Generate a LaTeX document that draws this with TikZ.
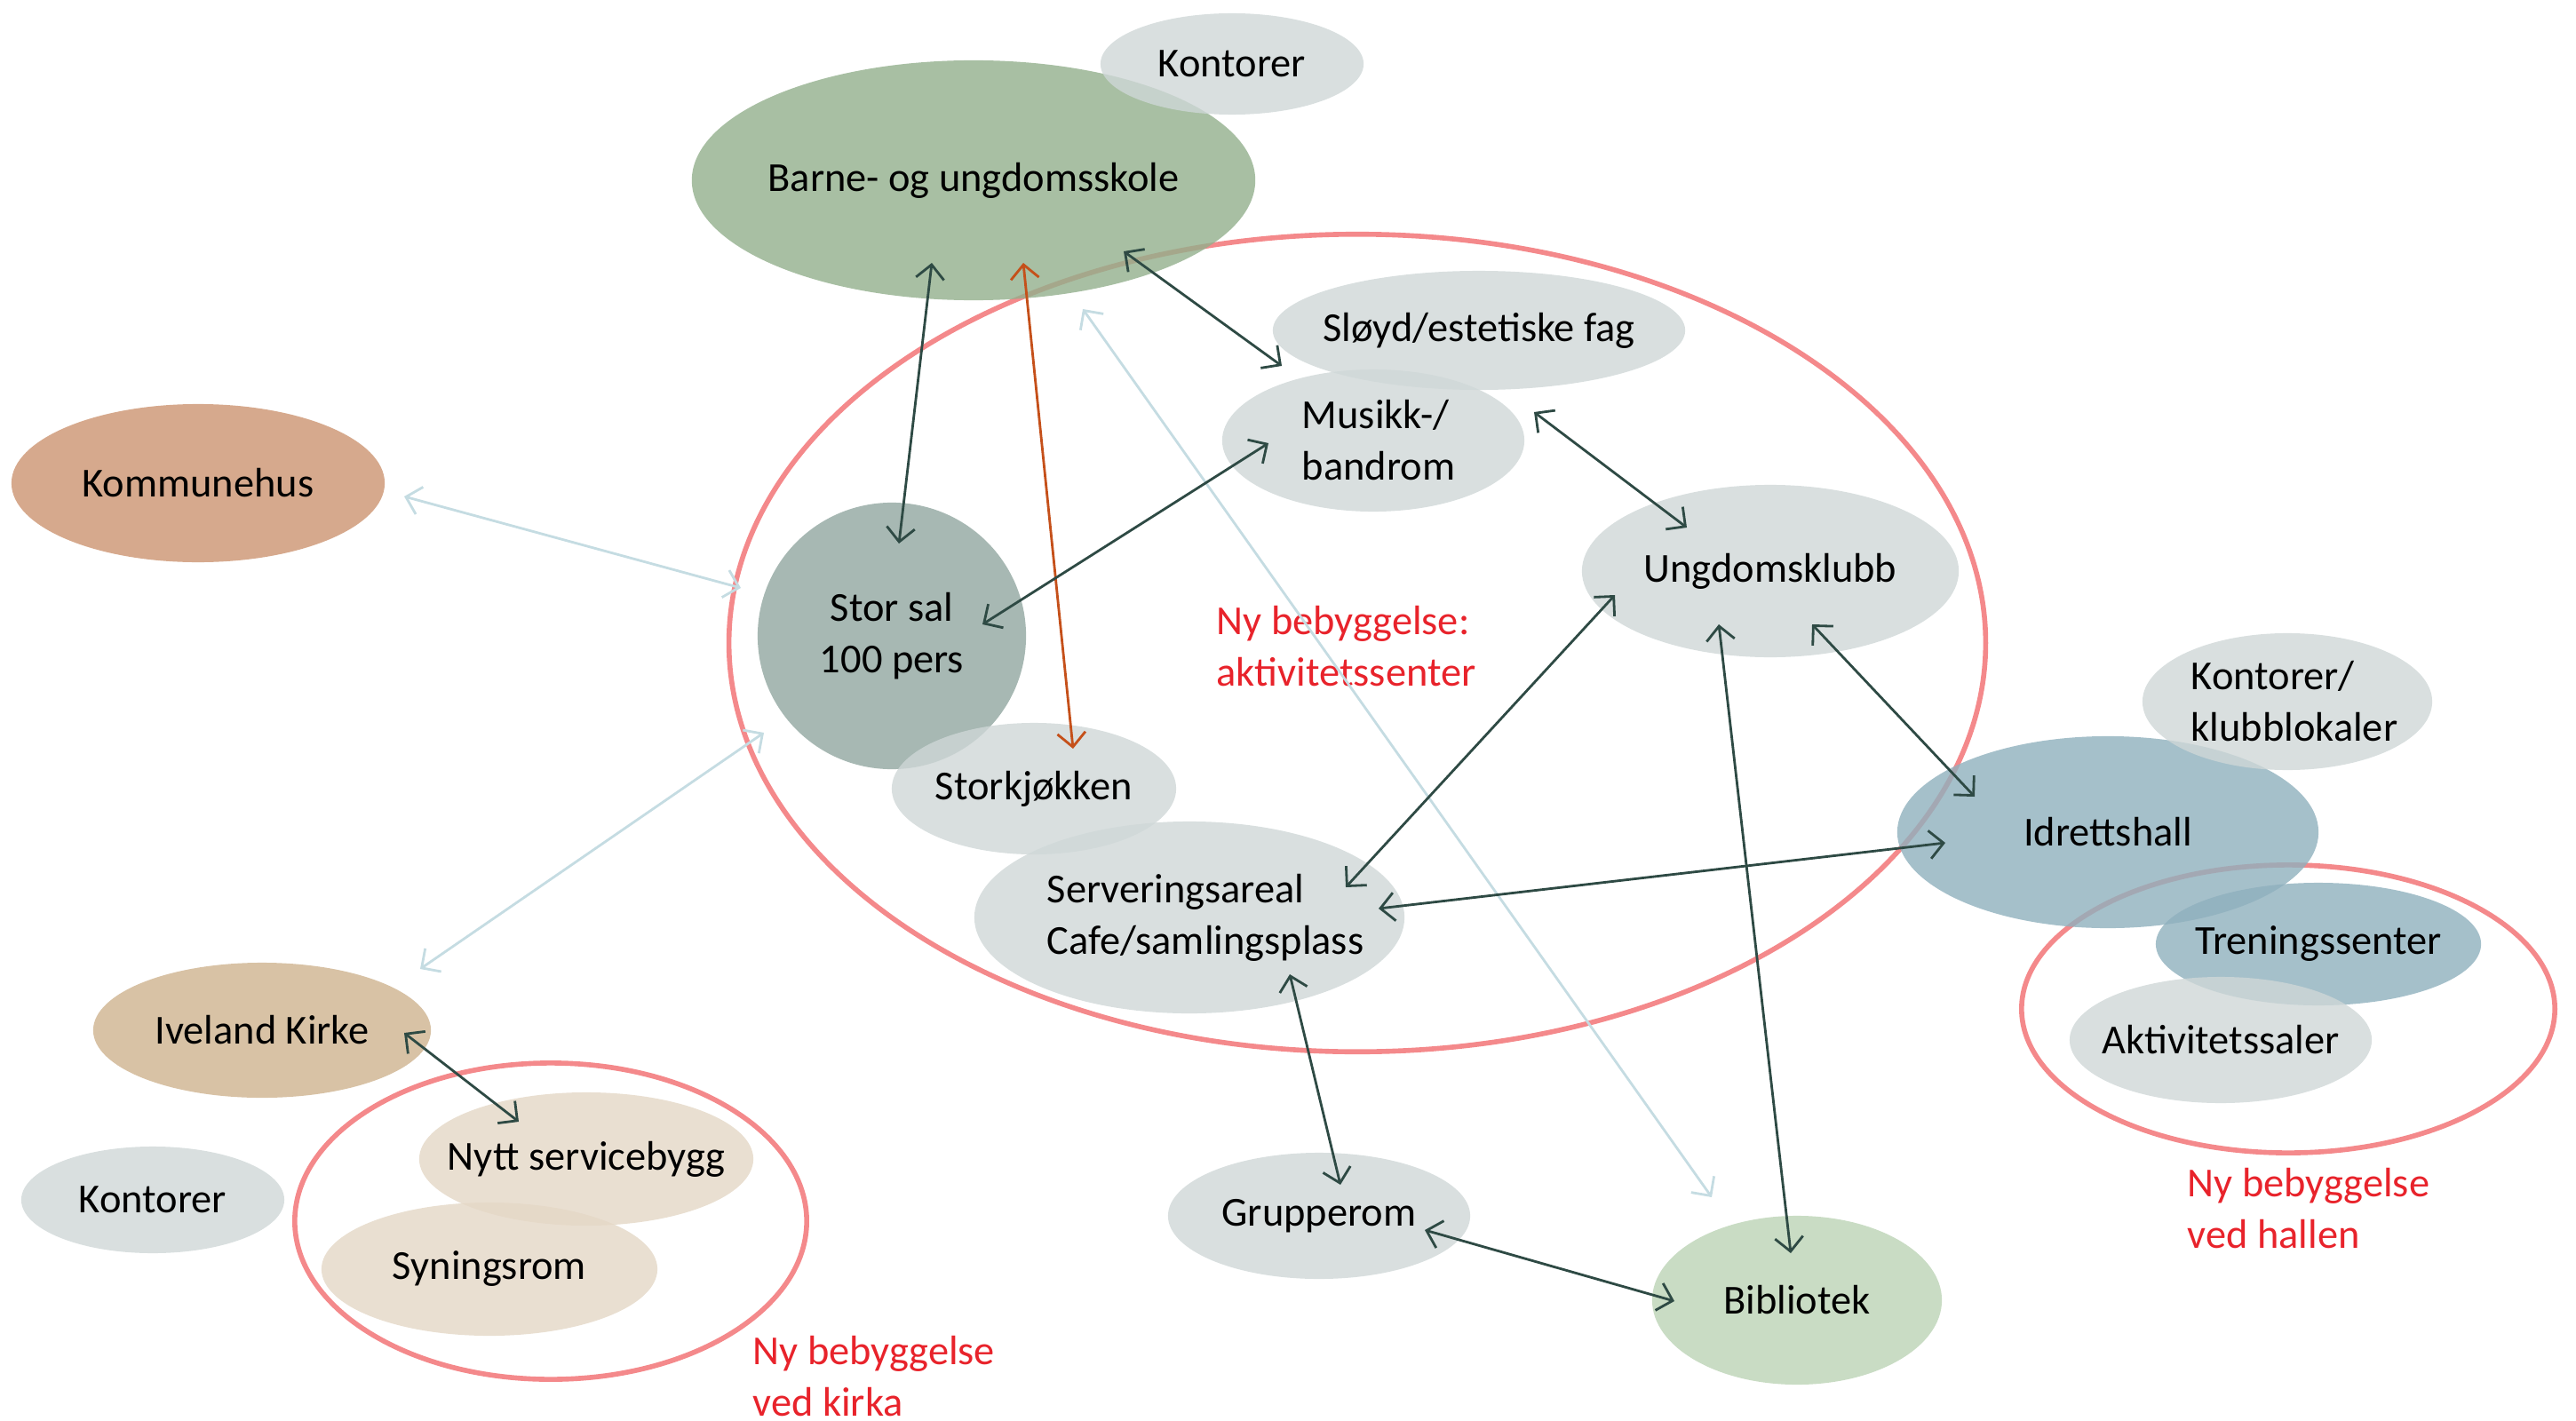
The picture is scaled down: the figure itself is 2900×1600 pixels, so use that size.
\documentclass[tikz,border=0pt]{standalone}
\usepackage{fontspec}
\setmainfont{Carlito}
\usetikzlibrary{shapes.geometric,arrows.meta}
\definecolor{roomgray}{HTML}{CFD7D7}
\definecolor{schoolgreen}{HTML}{92AF8C}
\definecolor{townbrown}{HTML}{CC9470}
\definecolor{hallgray}{HTML}{91A6A0}
\definecolor{sportblue}{HTML}{8FB0BD}
\definecolor{churchtan}{HTML}{CEB38F}
\definecolor{churchlight}{HTML}{E4D7C6}
\definecolor{librarygreen}{HTML}{BBD3B5}
\definecolor{zonered}{HTML}{F4898B}
\definecolor{notered}{HTML}{E8232B}
\definecolor{linkdark}{HTML}{2E4A44}
\definecolor{linkorange}{HTML}{C5501A}
\definecolor{linklight}{HTML}{C5DCE2}
\begin{document}
\begin{tikzpicture}[x=0.01cm, y=-0.01cm,
        font=\fontsize{13.2}{16.5}\selectfont,
        >={Straight Barb[length=4.5pt,width=9pt]},
        room/.style={ellipse, fill=#1, fill opacity=.8, text opacity=1, inner sep=0pt},
        zone/.style={ellipse, draw=zonered, line width=1.6pt, inner sep=0pt},
        note/.style={text=notered, align=left, inner sep=0pt, anchor=west},
        link/.style={<->, draw=linkdark, line width=0.8pt},
        every label/.style={inner sep=0pt, text opacity=1, fill=none, draw=none}]
        \useasboundingbox (0,0) rectangle (2900,1600);

        \node[zone, minimum width=14.14cm, minimum height=9.2cm] (senter) at (1528,724) {};
        \node[zone, minimum width=6cm, minimum height=3.24cm] (hallen) at (2576,1136) {};
        \node[zone, minimum width=5.76cm, minimum height=3.56cm] (kirka) at (620,1375) {};

        \node[room=schoolgreen, minimum width=6.34cm, minimum height=2.7cm, label=center:Barne- og ungdomsskole] (skole) at (1096,203) {};
        \node[room=roomgray, minimum width=2.96cm, minimum height=1.14cm, label=center:Kontorer] (kontorer) at (1387,72) {};
        \node[room=roomgray, minimum width=4.64cm, minimum height=1.34cm, label=center:Sløyd/estetiske fag] (sloyd) at (1665,372) {};
        \node[room=roomgray, minimum width=3.4cm, minimum height=1.6cm, label={[align=left, xshift=0.06cm]center:Musikk-/\\bandrom}] (musikk) at (1546,496) {};
        \node[room=townbrown, minimum width=4.2cm, minimum height=1.78cm, label=center:Kommunehus] (kommunehus) at (223,544) {};
        \node[room=hallgray, minimum width=3.02cm, minimum height=3cm, label={[align=center]center:Stor sal\\100 pers}] (storsal) at (1004,716) {};
        \node[room=roomgray, minimum width=3.2cm, minimum height=1.48cm, label=center:Storkjøkken] (kjokken) at (1164,888) {};
        \node[room=roomgray, minimum width=4.84cm, minimum height=2.16cm, label={[align=left, xshift=0.18cm]center:Serveringsareal\\Cafe/samlingsplass}] (servering) at (1339,1033) {};
        \node[room=roomgray, minimum width=4.24cm, minimum height=1.94cm, label=center:Ungdomsklubb] (ungdom) at (1993,643) {};
        \node[room=sportblue, minimum width=4.74cm, minimum height=2.16cm, label=center:Idrettshall] (idrett) at (2373,937) {};
        \node[room=roomgray, minimum width=3.26cm, minimum height=1.54cm, label={[align=left, xshift=0.08cm]center:Kontorer/\\klubblokaler}] (klubb) at (2575,790) {};
        \node[room=sportblue, minimum width=3.66cm, minimum height=1.38cm, label=center:Treningssenter] (trening) at (2610,1063) {};
        \node[room=roomgray, minimum width=3.4cm, minimum height=1.42cm, label=center:Aktivitetssaler] (aktivitet) at (2500,1171) {};
        \node[room=churchtan, minimum width=3.8cm, minimum height=1.52cm, label=center:Iveland Kirke] (kirke) at (295,1160) {};
        \node[room=roomgray, minimum width=2.96cm, minimum height=1.2cm, label=center:Kontorer] (kirkekontor) at (172,1351) {};
        \node[room=churchlight, minimum width=3.76cm, minimum height=1.5cm, label=center:Nytt servicebygg] (service) at (660,1305) {};
        \node[room=churchlight, minimum width=3.78cm, minimum height=1.5cm, label=center:Syningsrom] (syning) at (551,1429) {};
        \node[room=roomgray, minimum width=3.4cm, minimum height=1.42cm, label=center:Grupperom] (grupperom) at (1485,1369) {};
        \node[room=librarygreen, minimum width=3.26cm, minimum height=1.9cm, label=center:Bibliotek] (bibliotek) at (2023,1464) {};

        \node[note] (senternote) at (1369,728) {Ny bebyggelse:\\aktivitetssenter};
        \node[note] (kirkanote) at (847,1550) {Ny bebyggelse\\ved kirka};
        \node[note] (hallennote) at (2462,1361) {Ny bebyggelse\\ved hallen};

        \draw[link, draw=linklight] ([shift={(123,145)}]skole.center) -- ([shift={(-96,-116)}]bibliotek.center);
        \draw[link, draw=linklight] ([shift={(232,15)}]kommunehus.center) -- ([shift={(-170,-54)}]storsal.center);
        \draw[link, draw=linklight] ([shift={(-144,109)}]storsal.center) -- ([shift={(178,-69)}]kirke.center);
        \draw[link] ([shift={(-47,93)}]skole.center) -- ([shift={(8,-104)}]storsal.center);
        \draw[link, draw=linkorange] ([shift={(56,93)}]skole.center) -- ([shift={(44,-45)}]kjokken.center);
        \draw[link] ([shift={(169,80)}]skole.center) -- ([shift={(-222,40)}]sloyd.center);
        \draw[link] ([shift={(102,-13)}]storsal.center) -- ([shift={(-118,3)}]musikk.center);
        \draw[link] ([shift={(181,-32)}]musikk.center) -- ([shift={(-94,-49)}]ungdom.center);
        \draw[link] ([shift={(-175,27)}]ungdom.center) -- ([shift={(176,-34)}]servering.center);
        \draw[link] ([shift={(47,60)}]ungdom.center) -- ([shift={(-150,-40)}]idrett.center);
        \draw[link] ([shift={(-58,60)}]ungdom.center) -- ([shift={(-7,-53)}]bibliotek.center);
        \draw[link] ([shift={(213,-10)}]servering.center) -- ([shift={(-183,12)}]idrett.center);
        \draw[link] ([shift={(113,64)}]servering.center) -- ([shift={(24,-35)}]grupperom.center);
        \draw[link] ([shift={(119,16)}]grupperom.center) -- ([shift={(-138,1)}]bibliotek.center);
        \draw[link] ([shift={(160,3)}]kirke.center) -- ([shift={(-76,-42)}]service.center);
\end{tikzpicture}
\end{document}
